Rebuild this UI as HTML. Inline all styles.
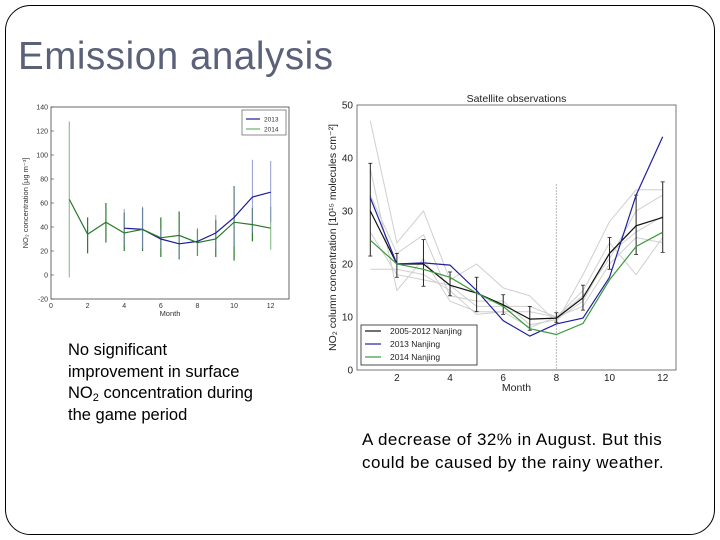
<!DOCTYPE html>
<html><head><meta charset="utf-8"><style>
body{margin:0;width:720px;height:540px;background:#fff;overflow:hidden;font-family:"Liberation Sans",sans-serif}
svg{position:absolute;left:0;top:0}
.t{position:absolute;font-size:16.5px;line-height:21.5px;color:#000}
sub{font-size:11px;line-height:0;vertical-align:-3px}
</style></head><body>
<svg width="720" height="540" id="svg">
<rect x="5.5" y="5.5" width="709" height="529" rx="25" fill="none" stroke="#000" stroke-width="1"/>
<text x="18" y="69" font-size="38.5" fill="#5a6178" font-family="Liberation Sans, sans-serif" textLength="315">Emission analysis</text>
<g id="left"></g>
<g id="right"></g>
</svg>
<div class="t" style="left:68px;top:340px">No significant<br>improvement in surface<br>NO<sub>2</sub> concentration during<br>the game period</div>
<div class="t" style="left:362px;top:429px;font-size:17px;line-height:22.5px;letter-spacing:0.45px">A decrease of 32% in August. But this<br>could be caused by the rainy weather.</div>
<script>
const months=[1,2,3,4,5,6,7,8,9,10,11,12];
const sMonths13=[4,5,6,7,8,9,10,11,12];
const s2013=[39,38,30,26,28,35,48,65,69];
const s2013Lo=[24,22,22,14,17,22,24,35,44];
const s2013Hi=[55,57,38,36,39,50,73,96,95];
const s2014=[63,34,44,35,38,31,33,27,30,44,42,39];
const s2014Lo=[-2,18,27,20,20,15,13,16,15,12,28,21];
const s2014Hi=[128,48,60,52,56,48,53,38,46,74,56,57];
const lYTicks=[-20,0,20,40,60,80,100,120,140];
const lXTicks=[0,2,4,6,8,10,12];
const sat0512=[30,20,20,16,14.5,12.3,9.6,9.8,13.6,22,27.2,28.8];
const sat0512Lo=[21.5,17.5,15.8,14,11,10.5,7.5,9,11.3,19,21.8,22.2];
const sat0512Hi=[39,22,24.6,18.5,17.5,14.2,12,10.8,16,25,33,35.5];
const sat2013=[32.5,20,20.2,19.8,15,9.3,6.4,8.7,9.8,17.5,33,44];
const sat2014=[24.5,20,19,17.5,14.5,12,7.8,6.7,8.8,17,23.3,26];
const gray1=[47,24,30,17,20,15.5,14,9,18,28,34,34];
const gray2=[38,15,21,13,11,11,8,10,15,24,18,25];
const gray3=[19,19,18,15,10.5,11,11,10,12,20,25,24];
const gray4=[33,22,25.5,14,13,13,8.5,9.5,13,22,26,29];
const gray5=[26,18,17,16,12,12,12,10,14,21,30,33];
const rYTicks=[0,10,20,30,40,50];
const rXTicks=[2,4,6,8,10,12];
const NS="http://www.w3.org/2000/svg";
function mk(p,tag,a){const e=document.createElementNS(NS,tag);for(const k in a)e.setAttribute(k,a[k]);p.appendChild(e);return e;}
function path(xs,ys,X,Y){return xs.map((m,i)=>(i?'L':'M')+X(m).toFixed(1)+','+Y(ys[i]).toFixed(1)).join('');}
// LEFT
const L=document.getElementById('left');
const lx0=51,lx1=289,ly0=107,ly1=299;
const LX=v=>lx0+(v-0)/13*(lx1-lx0), LY=v=>ly1-(v+20)/160*(ly1-ly0);
let r=mk(L,'rect',{x:lx0,y:ly0,width:lx1-lx0,height:ly1-ly0,fill:'none',stroke:'#444','stroke-width':0.8});

lYTicks.forEach(v=>{const t=mk(L,'text',{x:lx0-3,y:LY(v)+2.5,'font-size':7,'text-anchor':'end',fill:'#333'});t.textContent=v;

mk(L,'line',{x1:lx0,x2:lx0+3,y1:LY(v),y2:LY(v),stroke:'#444','stroke-width':0.6});});
lXTicks.forEach(v=>{const t=mk(L,'text',{x:LX(v),y:ly1+9,'font-size':7,'text-anchor':'middle',fill:'#333'});t.textContent=v;
});
let t=mk(L,'text',{x:(lx0+lx1)/2,y:ly1+17,'font-size':7.5,'text-anchor':'middle',fill:'#333'});t.textContent='Month';

t=mk(L,'text',{x:0,y:0,'font-size':7.5,'text-anchor':'middle',fill:'#333',transform:`translate(28,${(ly0+ly1)/2}) rotate(-90)`});t.textContent='NO₂ concentration [μg m⁻³]';

months.forEach((m,i)=>{const e=mk(L,'line',{x1:LX(m),x2:LX(m),y1:LY(s2014Lo[i]),y2:LY(s2014Hi[i]),stroke:i==0||i==11?'#8fc58f':'#2d7a2d','stroke-width':1.2});
});
sMonths13.forEach((m,i)=>{const e=mk(L,'line',{x1:LX(m),x2:LX(m),y1:LY(s2013Lo[i]),y2:LY(s2013Hi[i]),stroke:'#7a84c0','stroke-width':1,opacity:0.8});
});
let p=mk(L,'path',{d:path(sMonths13,s2013,LX,LY),fill:'none',stroke:'#1a1a9a','stroke-width':1.2});

p=mk(L,'path',{d:path(months,s2014,LX,LY),fill:'none',stroke:'#2a7a2a','stroke-width':1.2});

r=mk(L,'rect',{x:242,y:110,width:44,height:25,fill:'#fff',stroke:'#444','stroke-width':0.6});

[['2013','#1a1a9a',119],['2014','#6ab06a',129]].forEach(a=>{mk(L,'line',{x1:246,x2:260,y1:a[2],y2:a[2],stroke:a[1],'stroke-width':1.2});
const tt=mk(L,'text',{x:264,y:a[2]+2.5,'font-size':6.5,fill:'#333'});tt.textContent=a[0];
});
// RIGHT
const R=document.getElementById('right');
const rx0=357,rx1=676,ry0=105,ry1=370;
const RX=v=>rx0+(v-0.5)/12*(rx1-rx0), RY=v=>ry1-v/50*(ry1-ry0);
r=mk(R,'rect',{x:rx0,y:ry0,width:rx1-rx0,height:ry1-ry0,fill:'none',stroke:'#555','stroke-width':0.8});

t=mk(R,'text',{x:(rx0+rx1)/2,y:ry0-3,'font-size':10.5,'text-anchor':'middle',fill:'#222'});t.textContent='Satellite observations';

rYTicks.forEach(v=>{const tt=mk(R,'text',{x:rx0-4,y:RY(v)+3.5,'font-size':10,'text-anchor':'end',fill:'#222'});tt.textContent=v;
});
rXTicks.forEach(v=>{const tt=mk(R,'text',{x:RX(v),y:ry1+11,'font-size':10,'text-anchor':'middle',fill:'#222'});tt.textContent=v;
});
t=mk(R,'text',{x:(rx0+rx1)/2,y:ry1+21,'font-size':10.5,'text-anchor':'middle',fill:'#222'});t.textContent='Month';

t=mk(R,'text',{x:0,y:0,'font-size':10.5,'text-anchor':'middle',fill:'#222',transform:`translate(336,${(ry0+ry1)/2}) rotate(-90)`});t.textContent='NO₂ column concentration [10¹⁵ molecules cm⁻²]';

[gray1,gray2,gray3,gray4,gray5].forEach(g=>{const e=mk(R,'path',{d:path(months,g,RX,RY),fill:'none',stroke:'#cfcfcf','stroke-width':1});
});
let d=mk(R,'line',{x1:RX(8),x2:RX(8),y1:RY(35),y2:ry1,stroke:'#777','stroke-width':1,'stroke-dasharray':'1,2'});

months.forEach((m,i)=>{const e=mk(R,'line',{x1:RX(m),x2:RX(m),y1:RY(sat0512Lo[i]),y2:RY(sat0512Hi[i]),stroke:'#222','stroke-width':1});

[sat0512Lo[i],sat0512Hi[i]].forEach(v=>mk(R,'line',{x1:RX(m)-2,x2:RX(m)+2,y1:RY(v),y2:RY(v),stroke:'#222','stroke-width':0.8}));});
[[sat0512,'#111','line-2005-2012'],[sat2013,'#2020a0','line-2013-nanjing'],[sat2014,'#3a9a3a','line-2014-nanjing']].forEach(a=>{
const e=mk(R,'path',{d:path(months,a[0],RX,RY),fill:'none',stroke:a[1],'stroke-width':1.2});
});
r=mk(R,'rect',{x:361,y:325,width:116,height:40,fill:'#fff',stroke:'#222','stroke-width':0.8});

[['2005-2012 Nanjing','#111',331],['2013 Nanjing','#2020a0',344],['2014 Nanjing','#3a9a3a',357]].forEach(a=>{
mk(R,'line',{x1:365,x2:381,y1:a[2],y2:a[2],stroke:a[1],'stroke-width':1.2});
const tt=mk(R,'text',{x:390,y:a[2]+3,'font-size':8.5,fill:'#222'});tt.textContent=a[0];
});
</script>
</body></html>
